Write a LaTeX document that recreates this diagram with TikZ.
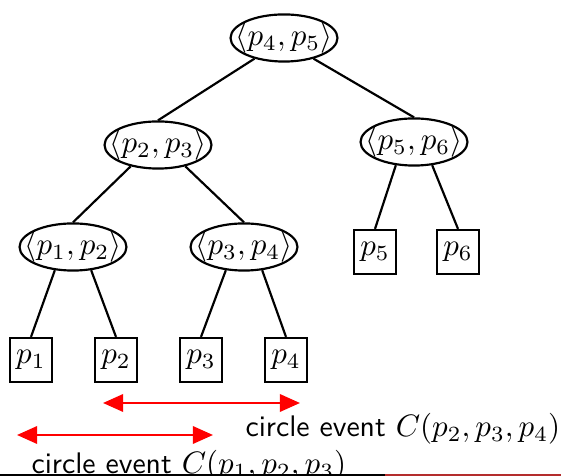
\documentclass[tikz,border=0pt]{standalone}
\usetikzlibrary{shapes.geometric,arrows.meta}
\definecolor{footred}{RGB}{180,45,45}
\begin{document}
\begin{tikzpicture}[x=0.3226pt,y=-0.3226pt,
  bp/.style={draw, ellipse, line width=0.7pt, inner xsep=-4pt, inner ysep=0pt, minimum width=34.5pt, minimum height=15.2pt},
  site/.style={draw, rectangle, line width=0.7pt, inner sep=0pt, minimum width=13.5pt, minimum height=14.2pt},
  edge/.style={line width=0.7pt},
  evt/.style={red, line width=0.8pt, {Triangle[length=6.5pt,width=5.6pt]}-{Triangle[length=6.5pt,width=5.6pt]}},
  lbl/.style={anchor=base west, inner sep=0pt, font=\sffamily\fontsize{9.6}{12}\selectfont}]
\clip (0,0) rectangle (561,476);
% breakpoints
\node[bp] (r45) at (284,38) {$\langle p_4,p_5\rangle$};
\node[bp] (r23) at (158,145) {$\langle p_2,p_3\rangle$};
\node[bp] (r56) at (414,142) {$\langle p_5,p_6\rangle$};
\node[bp] (r12) at (73,247) {$\langle p_1,p_2\rangle$};
\node[bp] (r34) at (244,247) {$\langle p_3,p_4\rangle$};
% sites
\node[site] (s1) at (31,360) {$p_1$};
\node[site] (s2) at (116,360) {$p_2$};
\node[site] (s3) at (201,360) {$p_3$};
\node[site] (s4) at (286,360) {$p_4$};
\node[site] (s5) at (375,252) {$p_5$};
\node[site] (s6) at (458,252) {$p_6$};

\draw[edge] (r45.215) -- (r23.north);
\draw[edge] (r45.325) -- (r56.north);
\draw[edge] (r23.218) -- (r12.north);
\draw[edge] (r23.322) -- (r34.north);
\draw[edge] (r12.232) -- (s1.north);
\draw[edge] (r12.308) -- (s2.north);
\draw[edge] (r34.232) -- (s3.north);
\draw[edge] (r34.308) -- (s4.north);
\draw[edge] (r56.232) -- (s5.north);
\draw[edge] (r56.308) -- (s6.north);

% circle events
\coordinate (a1) at (103,403);
\coordinate (a2) at (300,403);
\coordinate (b1) at (17,435);
\coordinate (b2) at (213,435);
\draw[evt] (a1) -- (a2);
\draw[evt] (b1) -- (b2);
\node[lbl] (e234) at (245,437) {circle event $C(p_2,p_3,p_4)$};
\node[lbl] (e123) at (31,474) {circle event $C(p_1,p_2,p_3)$};

% footline
\fill[black] (0,474) rectangle (385,476);
\fill[footred] (385,474) rectangle (561,476);
\end{tikzpicture}
\end{document}
